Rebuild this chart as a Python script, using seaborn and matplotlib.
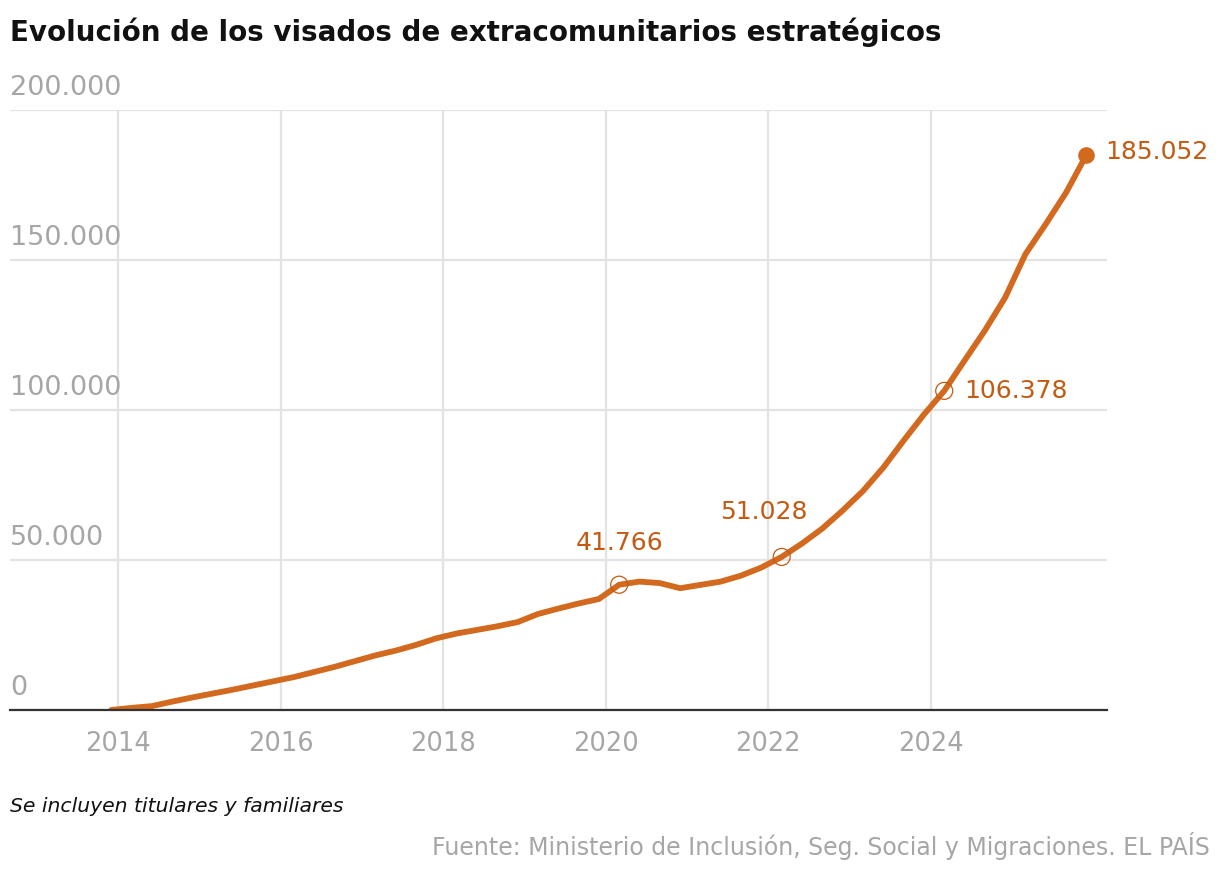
import matplotlib
matplotlib.use("Agg")
import matplotlib.pyplot as plt
import seaborn as sns
import pandas as pd
from matplotlib.transforms import blended_transform_factory

# ---- data (quarterly) ----
dates = [2013.917 + 0.25 * k for k in range(49)]
visados = [0, 700, 1300, 2800, 4200, 5500, 6800, 8200, 9600, 11000,
           12700, 14400, 16300, 18200, 19800, 21700, 23900, 25500, 26700, 27900,
           29300, 32000, 33800, 35500, 37000, 41766, 42800, 42300, 40600, 41700,
           42800, 44800, 47500, 51028, 55500, 60500, 66500, 73000, 80800, 89800,
           98500, 106378, 116500, 126500, 137500, 152000, 162000, 172500, 185052]
highlight_idx = [25, 33, 41]
year_ticks = [2014, 2016, 2018, 2020, 2022, 2024]
y_ticks = [0, 50000, 100000, 150000, 200000]

title = "Evolución de los visados de extracomunitarios estratégicos"
note = "Se incluyen titulares y familiares"
source = "Fuente: Ministerio de Inclusión, Seg. Social y Migraciones. EL PAÍS"

df = pd.DataFrame({"fecha": dates, "visados": visados})

def fmt(v):
    return f"{v:,}".replace(",", ".")

LINE = "#d2691e"
LABEL = "#c45a12"
GRAY = "#a6a6a6"
GRID = "#e3e3e3"

sns.set_theme(style="white")
plt.rcParams["font.family"] = ["DejaVu Sans"]

W, H = 1220, 876
fig = plt.figure(figsize=(W / 100, H / 100), dpi=100)
ax = fig.add_axes([10 / W, 1 - 710 / H, (1107 - 10) / W, (710 - 110) / H])

sns.lineplot(data=df, x="fecha", y="visados", ax=ax, color=LINE, lw=4.2,
             solid_capstyle="round", solid_joinstyle="round", zorder=3)

ax.set_xlim(2012.67, 2026.17)
ax.set_ylim(0, 200000)
ax.set_xticks(year_ticks)
ax.set_xticklabels([str(y) for y in year_ticks])
ax.set_yticks(y_ticks)
ax.set_yticklabels([])
ax.tick_params(axis="x", length=0, pad=15, labelsize=18.5, labelcolor=GRAY)
ax.tick_params(axis="y", length=0)
ax.grid(True, color=GRID, lw=1.6, zorder=0)
for s in ["top", "right", "left"]:
    ax.spines[s].set_visible(False)
ax.spines["bottom"].set_color("#333333")
ax.spines["bottom"].set_linewidth(1.6)
ax.spines["bottom"].set_zorder(4)
ax.set_xlabel("")
ax.set_ylabel("")

# y labels above gridlines
tr = blended_transform_factory(ax.transAxes, ax.transData)
for v in y_ticks:
    ax.annotate(fmt(v), xy=(0, v), xycoords=tr, xytext=(0, 9),
                textcoords="offset pixels", ha="left", va="bottom",
                fontsize=19.5, color=GRAY, clip_on=False)

# highlighted points
for i in highlight_idx:
    ax.scatter(dates[i], visados[i], s=150, facecolors="none",
               edgecolors=LABEL, linewidths=0.9, zorder=5)
ax.scatter(dates[-1], visados[-1], s=120, color=LINE, zorder=5)

offsets = {25: (0, 30, "center", "bottom"),
           33: (-18, 45, "center", "center"),
           41: (20, 0, "left", "center"),
           48: (19, 3, "left", "center")}
for i, (dx, dy, ha, va) in offsets.items():
    ax.annotate(fmt(visados[i]), xy=(dates[i], visados[i]),
                xytext=(dx, dy), textcoords="offset pixels",
                ha=ha, va=va, fontsize=18, color=LABEL, clip_on=False)

fig.text(10 / W, 1 - 32 / H, title, ha="left", va="center", fontsize=20,
         fontweight="bold", color="#111111")
fig.text(10 / W, 1 - 806 / H, note, ha="left", va="center", fontsize=14.7,
         style="italic", color="#111111")
fig.text(1210 / W, 1 - 846 / H, source, ha="right", va="center", fontsize=17,
         color=GRAY)

fig.savefig("out.png", dpi=100)
